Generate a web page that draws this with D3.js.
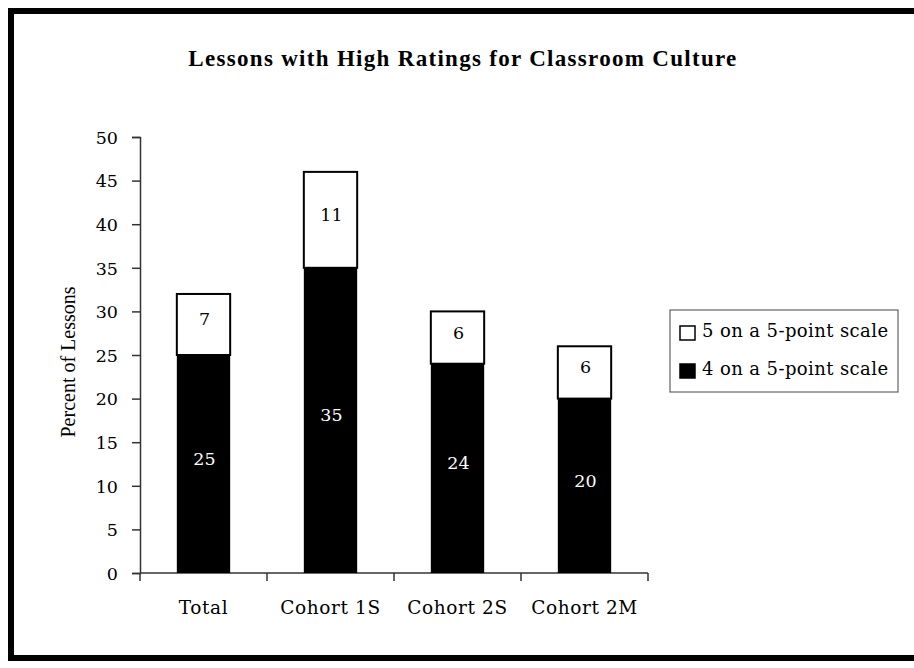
<!DOCTYPE html>
<html>
<head>
<meta charset="utf-8">
<script src="https://cdn.jsdelivr.net/npm/d3@7"></script>
<style>
  body { margin: 0; background: #fff; }
  svg { display: block; font-family: "Liberation Serif", "Times New Roman", serif; }
  .lbl { font-family: "DejaVu Serif", serif; }
</style>
</head>
<body>
<div id="chart"></div>
<script>
// chart data
var categories = ['Total', 'Cohort 1S', 'Cohort 2S', 'Cohort 2M'];
var rating4 = [25, 35, 24, 20];
var rating5 = [7, 11, 6, 6];
var seriesNames = ['5 on a 5-point scale', '4 on a 5-point scale'];
var yTicks = [0, 5, 10, 15, 20, 25, 30, 35, 40, 45, 50];

var width = 914, height = 668;

var svg = d3.select('#chart').append('svg')
  .attr('width', width)
  .attr('height', height);

// outer frame (right side runs off the picture)
svg.append('rect')
  .attr('x', 11).attr('y', 11)
  .attr('width', 930).attr('height', 647)
  .attr('fill', 'none')
  .attr('stroke', '#000')
  .attr('stroke-width', 6);

svg.append('text')
  .attr('x', 463).attr('y', 66)
  .attr('text-anchor', 'middle')
  .attr('font-size', 23)
  .attr('font-weight', 'bold')
  .attr('letter-spacing', 1.3)
  .text('Lessons with High Ratings for Classroom Culture');

var x = d3.scaleBand()
  .domain(categories)
  .range([140, 648])
  .paddingInner(0.58)
  .paddingOuter(0.29);

var y = d3.scaleLinear()
  .domain([0, 50])
  .range([573, 137]);

var rows = categories.map(function(c, i) {
  return { cat: c, lo: rating4[i], hi: rating5[i] };
});

// y axis
var yAxis = svg.append('g').attr('transform', 'translate(140,0)')
  .call(d3.axisLeft(y).tickValues(yTicks).tickSize(8).tickPadding(14));
yAxis.attr('font-family', null).attr('font-size', null);
yAxis.select('.domain').attr('stroke', '#333').attr('stroke-width', 1.5);
yAxis.selectAll('.tick line').attr('stroke', '#333').attr('stroke-width', 1.5);
yAxis.selectAll('.tick text')
  .attr('class', 'lbl')
  .attr('font-size', 17.5)
  .attr('fill', '#000')
  .attr('dy', '0.36em');

// x axis, ticks between categories
var bounds = categories.map(function(c) { return x(c) - x.step() * x.paddingOuter(); });
bounds.push(x.range()[1]);
var xg = svg.append('g');
xg.append('line')
  .attr('x1', x.range()[0]).attr('x2', x.range()[1])
  .attr('y1', y(0)).attr('y2', y(0))
  .attr('stroke', '#333').attr('stroke-width', 1.5);
xg.selectAll('line.tk').data(bounds).enter().append('line')
  .attr('class', 'tk')
  .attr('x1', function(d) { return d; }).attr('x2', function(d) { return d; })
  .attr('y1', y(0)).attr('y2', y(0) + 8)
  .attr('stroke', '#333').attr('stroke-width', 1.5);
xg.selectAll('text').data(categories).enter().append('text')
  .attr('class', 'lbl')
  .attr('x', function(d) { return x(d) + x.bandwidth() / 2; })
  .attr('y', 614)
  .attr('text-anchor', 'middle')
  .attr('font-size', 18.5)
  .attr('letter-spacing', 0.6)
  .text(function(d) { return d; });

// y axis title
svg.append('text')
  .attr('transform', 'translate(75,362) rotate(-90)')
  .attr('text-anchor', 'middle')
  .attr('font-size', 20)
  .text('Percent of Lessons');

// bars
var bars = svg.append('g');
bars.selectAll('rect.lo').data(rows).enter().append('rect')
  .attr('class', 'lo')
  .attr('x', function(d) { return x(d.cat); })
  .attr('width', x.bandwidth())
  .attr('y', function(d) { return y(d.lo); })
  .attr('height', function(d) { return y(0) - y(d.lo); })
  .attr('fill', '#000');
bars.selectAll('rect.hi').data(rows).enter().append('rect')
  .attr('class', 'hi')
  .attr('x', function(d) { return x(d.cat); })
  .attr('width', x.bandwidth())
  .attr('y', function(d) { return y(d.lo + d.hi); })
  .attr('height', function(d) { return y(d.lo) - y(d.lo + d.hi); })
  .attr('fill', '#fff')
  .attr('stroke', '#000')
  .attr('stroke-width', 2);

bars.selectAll('text.lo').data(rows).enter().append('text')
  .attr('class', 'lbl')
  .attr('x', function(d) { return x(d.cat) + x.bandwidth() / 2 + 1; })
  .attr('y', function(d) { return y(d.lo / 2) + 1; })
  .attr('text-anchor', 'middle')
  .attr('font-size', 17.5)
  .attr('fill', '#fff')
  .text(function(d) { return d.lo; });
bars.selectAll('text.hi').data(rows).enter().append('text')
  .attr('class', 'lbl')
  .attr('x', function(d) { return x(d.cat) + x.bandwidth() / 2 + 1; })
  .attr('y', function(d) { return y(d.lo + d.hi / 2) + 1; })
  .attr('text-anchor', 'middle')
  .attr('font-size', 17.5)
  .attr('fill', '#000')
  .text(function(d) { return d.hi; });

// legend
var legend = svg.append('g');
legend.append('rect')
  .attr('x', 670).attr('y', 310)
  .attr('width', 228).attr('height', 82)
  .attr('fill', '#fff')
  .attr('stroke', '#444')
  .attr('stroke-width', 1);
var items = legend.selectAll('g').data(seriesNames).enter().append('g')
  .attr('transform', function(d, i) { return 'translate(680,' + (326 + i * 38) + ')'; });
items.append('rect')
  .attr('width', 15).attr('height', 14)
  .attr('fill', function(d, i) { return i === 0 ? '#fff' : '#000'; })
  .attr('stroke', '#000')
  .attr('stroke-width', 1.5);
items.append('text')
  .attr('class', 'lbl')
  .attr('x', 22).attr('y', 11)
  .attr('font-size', 18)
  .attr('letter-spacing', 0.4)
  .text(function(d) { return d; });
</script>
</body>
</html>
